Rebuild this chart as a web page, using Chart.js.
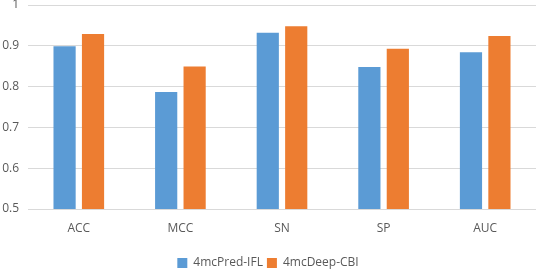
<!DOCTYPE html>
<html>
<head>
<meta charset="utf-8">
<script src="https://cdn.jsdelivr.net/npm/chart.js@4"></script>
<style>
  html, body { margin: 0; padding: 0; background: #fff; }
  #wrap { width: 536px; height: 270px; }
</style>
</head>
<body>
<div id="wrap"><canvas id="metricsChart"></canvas></div>
<script>
const categories = ['ACC', 'MCC', 'SN', 'SP', 'AUC'];
const predIFL = [0.899, 0.787, 0.932, 0.848, 0.884];
const deepCBI = [0.929, 0.849, 0.948, 0.893, 0.924];
const yTicks = [0.5, 0.6, 0.7, 0.8, 0.9, 1];

Chart.defaults.font.family = "'Open Sans', sans-serif";
Chart.defaults.font.size = 12;
Chart.defaults.color = '#595959';

const ctx = document.getElementById('metricsChart').getContext('2d');
new Chart(ctx, {
  type: 'bar',
  data: {
    labels: categories,
    datasets: [
      { label: '4mcPred-IFL', data: predIFL, backgroundColor: '#5B9BD5' },
      { label: '4mcDeep-CBI', data: deepCBI, backgroundColor: '#ED7D31' }
    ]
  },
  options: {
    responsive: true,
    maintainAspectRatio: false,
    animation: false,
    categoryPercentage: 0.56,
    barPercentage: 0.78,
    layout: { padding: { top: 0, right: 0, bottom: -9, left: 0 } },
    plugins: {
      legend: {
        position: 'bottom',
        labels: { boxWidth: 10, boxHeight: 10, padding: 4 }
      },
      tooltip: { enabled: false }
    },
    scales: {
      x: {
        grid: { display: false, drawTicks: false },
        border: { color: '#d9d9d9' },
        ticks: { padding: 12 },
        afterFit: axis => { axis.height = 44; }
      },
      y: {
        min: 0.5,
        max: 1,
        afterBuildTicks: axis => { axis.ticks = yTicks.map(v => ({ value: v })); },
        // fixed width, and keep the top of the plot close to the edge like the original
        afterFit: axis => { axis.width = 28; axis.paddingTop = 5; axis.paddingBottom = 0; },
        grid: { color: '#d9d9d9', drawTicks: false },
        border: { display: false },
        ticks: {
          padding: 9,
          callback: v => String(Math.round(v * 10) / 10)
        }
      }
    }
  }
});
</script>
</body>
</html>
